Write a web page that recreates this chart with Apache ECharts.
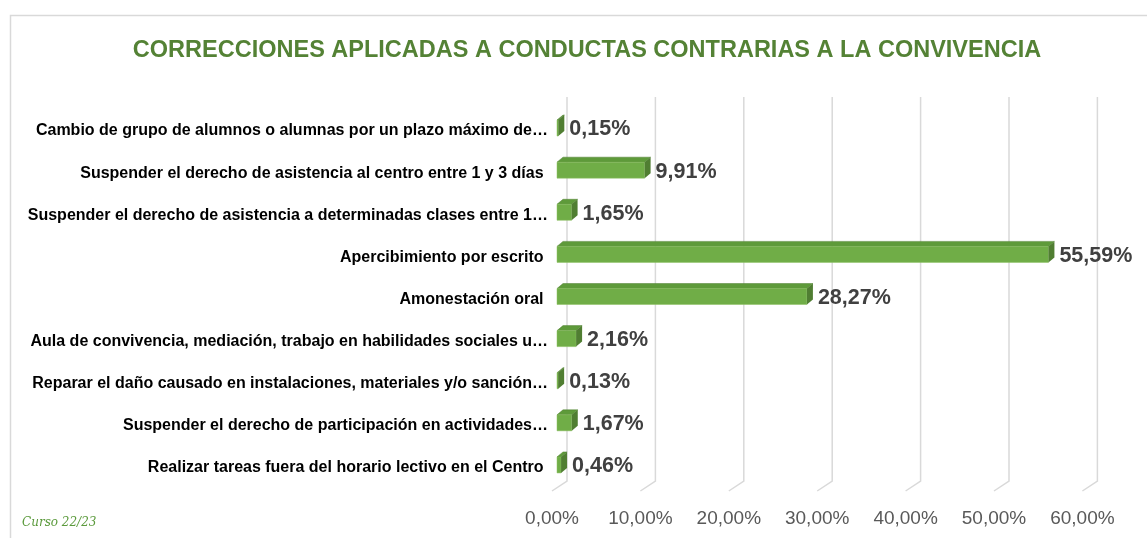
<!DOCTYPE html>
<html>
<head>
<meta charset="utf-8">
<script src="https://cdn.jsdelivr.net/npm/echarts@6/dist/echarts.min.js"></script>
<style>
  html, body { margin: 0; padding: 0; background: #fff; }
  #chart { width: 1147px; height: 538px; }
</style>
</head>
<body>
<div id="chart"></div>
<script>
// categorías de arriba hacia abajo
const categories = [
  'Cambio de grupo de alumnos o alumnas por un plazo máximo de…',
  'Suspender el derecho de asistencia al centro entre 1 y 3 días ',
  'Suspender el derecho de asistencia a determinadas clases entre 1…',
  'Apercibimiento por escrito ',
  'Amonestación oral ',
  'Aula de convivencia, mediación, trabajo en habilidades sociales u…',
  'Reparar el daño causado en instalaciones, materiales y/o sanción…',
  'Suspender el derecho de participación en actividades…',
  'Realizar tareas fuera del horario lectivo en el Centro '
]
const percentages = [0.15, 9.91, 1.65, 55.59, 28.27, 2.16, 0.13, 1.67, 0.46]
const axisTicks = [0, 10, 20, 30, 40, 50, 60]

const fmt = (v) => v.toFixed(2).replace('.', ',') + '%'

const chart = echarts.init(document.getElementById('chart'), null, {
  width: 1147,
  height: 538
})

// efecto 3D
const DEPTH_X = 15
const DEPTH_Y = -10
const BAR_SHIFT = 5
const BAR_DX = 6
const BAR_DY = -5

chart.setOption({
  animation: false,
  backgroundColor: '#ffffff',
  graphic: [
    {
      type: 'rect',
      shape: { x: 10.5, y: 15.5, width: 1160, height: 560 },
      style: { fill: 'none', stroke: '#d9d9d9', lineWidth: 1.5 },
      z: -10
    },
    {
      type: 'text',
      x: 587,
      y: 51,
      style: {
        text: 'CORRECCIONES APLICADAS A CONDUCTAS CONTRARIAS A LA CONVIVENCIA',
        fill: '#548235',
        font: 'bold 23.5px "Liberation Sans", Arial, sans-serif',
        align: 'center',
        verticalAlign: 'middle'
      }
    },
    {
      type: 'text',
      x: 22,
      y: 523,
      style: {
        text: 'Curso 22/23',
        fill: '#5b9a3c',
        font: 'italic 12px "DejaVu Serif", serif',
        align: 'left',
        verticalAlign: 'middle'
      }
    }
  ],
  grid: {
    left: 552,
    top: 107,
    width: 530.4,
    height: 379
  },
  xAxis: {
    type: 'value',
    min: 0,
    max: 60,
    interval: 10,
    axisLine: { show: false },
    axisTick: { show: false },
    splitLine: { show: false },
    axisLabel: {
      margin: 23,
      color: '#595959',
      fontSize: 19,
      fontFamily: '"Liberation Sans", Arial, sans-serif',
      formatter: fmt
    }
  },
  yAxis: {
    type: 'category',
    inverse: true,
    data: categories,
    axisLine: { show: false },
    axisTick: { show: false },
    axisLabel: {
      margin: 4,
      verticalAlign: 'top',
      lineHeight: 6,
      color: '#000000',
      fontWeight: 'bold',
      fontSize: 16,
      fontFamily: '"Liberation Sans", Arial, sans-serif'
    }
  },
  series: [
    {
      // líneas de división en perspectiva
      type: 'custom',
      z: 1,
      silent: true,
      data: axisTicks.map(t => [t, 0]),
      renderItem(params, api) {
        const cs = params.coordSys
        const x = api.coord([api.value(0), 0])[0]
        const top = cs.y + DEPTH_Y
        const bend = cs.y + cs.height + 5 + DEPTH_Y
        const floor = cs.y + cs.height + 5
        return {
          type: 'polyline',
          shape: {
            points: [
              [x + DEPTH_X, top],
              [x + DEPTH_X, bend],
              [x, floor]
            ]
          },
          style: { stroke: '#d9d9d9', lineWidth: 1.5, fill: 'none' }
        }
      }
    },
    {
      type: 'custom',
      z: 2,
      data: percentages.map((v, i) => [v, i]),
      encode: { x: 0, y: 1 },
      renderItem(params, api) {
        const v = api.value(0)
        const idx = api.value(1)
        const start = api.coord([0, idx])
        const end = api.coord([v, idx])
        const h = 16
        const x0 = start[0] + BAR_SHIFT
        const x1 = end[0] + BAR_SHIFT
        const yT = start[1] - h / 2
        const yB = yT + h
        return {
          type: 'group',
          children: [
            {
              type: 'polygon',
              shape: { points: [[x0, yT], [x1, yT], [x1 + BAR_DX, yT + BAR_DY], [x0 + BAR_DX, yT + BAR_DY]] },
              style: { fill: '#5e9a3a', stroke: '#4f7f31', lineWidth: 0.5 }
            },
            {
              type: 'rect',
              shape: { x: x0, y: yT, width: Math.max(x1 - x0, 0.5), height: h },
              style: { fill: '#70ad47', stroke: '#8cc063', lineWidth: 0.5 }
            },
            {
              type: 'polygon',
              shape: { points: [[x1, yT], [x1 + BAR_DX, yT + BAR_DY], [x1 + BAR_DX, yB + BAR_DY], [x1, yB]] },
              style: { fill: '#507e32' }
            },
            {
              type: 'text',
              x: x1 + BAR_DX + 5,
              y: (yT + yB) / 2 + 1.5,
              style: {
                text: fmt(v),
                fill: '#404040',
                font: 'bold 21.5px "Liberation Sans", Arial, sans-serif',
                align: 'left',
                verticalAlign: 'middle'
              }
            }
          ]
        }
      }
    }
  ]
}, true)
</script>
</body>
</html>
